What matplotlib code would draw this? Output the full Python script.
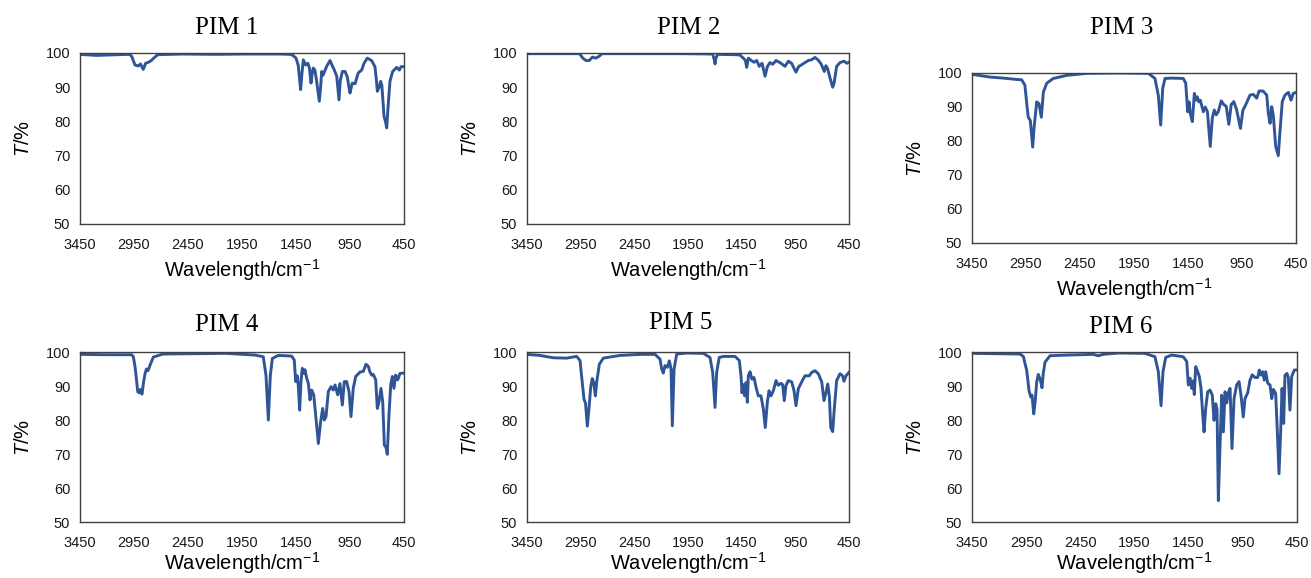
import matplotlib
matplotlib.use("Agg")
import matplotlib.pyplot as plt

plt.rcParams['font.family'] = 'Liberation Sans'
plt.rcParams['mathtext.fontset'] = 'custom'
plt.rcParams['mathtext.rm'] = 'Liberation Sans'
plt.rcParams['mathtext.it'] = 'Liberation Sans:italic'

# DATA (wavenumber in cm-1, transmittance in %)
titles = ['PIM 1', 'PIM 2', 'PIM 3', 'PIM 4', 'PIM 5', 'PIM 6']
x_ticks = [3450, 2950, 2450, 1950, 1450, 950, 450]
y_ticks = [50, 60, 70, 80, 90, 100]

wn1 = [3450, 3300, 3100, 2990, 2971, 2941, 2910, 2890, 2864, 2842, 2815, 2790, 2771, 2730, 2500,
       2200, 1900, 1600, 1500, 1475, 1450, 1430, 1407, 1395, 1382, 1360, 1340, 1325, 1311, 1300,
       1290, 1275, 1260, 1234, 1222, 1212, 1200, 1166, 1135, 1110, 1095, 1073, 1052, 1040, 1020,
       996, 975, 960, 950, 929, 903, 885, 873, 842, 820, 790, 750, 719, 705, 697,
       680, 666, 655, 635, 622, 610, 598, 580, 555, 518, 493, 478, 450]
t1 = [99.6, 99.3, 99.5, 99.6, 99.0, 96.5, 96.2, 96.8, 95.2, 97.0, 97.3, 97.8, 98.4, 99.5, 99.7,
      99.6, 99.7, 99.7, 99.6, 99.2, 98.5, 96.5, 89.3, 94.0, 98.0, 96.5, 97.0, 95.5, 91.2, 94.0,
      95.6, 95.0, 92.0, 85.9, 90.0, 94.6, 93.5, 96.1, 97.8, 96.0, 95.0, 93.2, 86.3, 92.0, 94.6,
      94.6, 93.0, 90.0, 88.3, 91.2, 91.0, 93.0, 94.2, 95.0, 97.0, 98.5, 97.8, 96.0, 92.0, 88.8,
      90.0, 91.7, 90.5, 81.5, 80.0, 78.1, 84.0, 91.7, 94.6, 95.8, 95.0, 96.0, 96.0]

wn2 = [3450, 3000, 2960, 2930, 2900, 2870, 2840, 2810, 2780, 2750, 2400, 2000, 1720, 1705, 1698,
       1690, 1675, 1500, 1466, 1435, 1415, 1403, 1388, 1360, 1335, 1310, 1286, 1260, 1232, 1211,
       1186, 1160, 1130, 1093, 1046, 1015, 985, 944, 920, 870, 829, 800, 767, 736, 710,
       680, 665, 650, 627, 602, 590, 565, 534, 497, 470, 450]
t2 = [99.8, 99.8, 99.8, 98.5, 97.8, 97.8, 98.8, 98.5, 99.0, 99.8, 99.8, 99.8, 99.7, 98.0, 96.8,
      98.5, 99.6, 99.5, 99.4, 98.5, 97.8, 95.8, 98.5, 97.8, 97.3, 97.8, 96.1, 97.0, 93.2, 96.0,
      97.2, 96.7, 97.8, 97.2, 96.1, 97.6, 97.0, 94.4, 96.0, 97.0, 97.8, 98.0, 98.7, 97.9, 96.8,
      94.6, 96.3, 95.5, 92.7, 90.0, 91.0, 96.1, 97.2, 97.6, 97.0, 97.3]

wn3 = [3450, 3283, 3160, 3068, 2990, 2960, 2940, 2929, 2910, 2888, 2875, 2851, 2830, 2808, 2789,
       2758, 2697, 2573, 2388, 2100, 1817, 1756, 1725, 1703, 1684, 1663, 1601, 1494, 1471, 1453,
       1440, 1428, 1410, 1391, 1378, 1364, 1350, 1336, 1308, 1290, 1270, 1244, 1225, 1207, 1188,
       1170, 1142, 1118, 1096, 1072, 1050, 1026, 1000, 964, 942, 915, 876, 845, 814, 792,
       755, 721, 706, 690, 675, 660, 638, 614, 600, 577, 552, 520, 496, 475, 450]
t3 = [99.6, 98.8, 98.5, 98.2, 98.0, 96.4, 90.0, 87.0, 86.0, 78.2, 84.0, 91.5, 91.0, 87.0, 94.4,
      97.0, 98.4, 99.3, 99.9, 100.0, 99.9, 98.4, 93.5, 84.7, 95.5, 98.4, 98.5, 98.4, 97.0, 88.6,
      91.5, 88.0, 85.7, 94.0, 92.0, 93.0, 91.5, 92.0, 88.6, 90.0, 88.6, 78.4, 86.7, 89.1, 87.7,
      88.6, 91.8, 90.7, 90.2, 84.9, 90.7, 91.6, 89.2, 83.7, 89.0, 90.7, 93.5, 93.7, 92.6, 94.7,
      94.7, 93.5, 88.1, 85.2, 90.1, 87.5, 78.4, 75.7, 82.0, 91.6, 93.5, 94.3, 92.0, 94.0, 94.3]

wn4 = [3450, 3200, 2971, 2956, 2940, 2925, 2915, 2900, 2890, 2876, 2862, 2848, 2835, 2820, 2802,
       2771, 2683, 2400, 2100, 1830, 1753, 1728, 1706, 1688, 1669, 1614, 1490, 1466, 1453, 1438,
       1429, 1416, 1404, 1392, 1376, 1367, 1351, 1336, 1320, 1305, 1286, 1268, 1243, 1222, 1203,
       1188, 1172, 1151, 1126, 1105, 1089, 1064, 1043, 1021, 1003, 981, 959, 941, 920, 897,
       857, 827, 802, 781, 765, 749, 734, 712, 697, 682, 663, 647, 632, 617, 605,
       589, 573, 558, 543, 527, 508, 487, 450]
t4 = [99.3, 99.2, 99.2, 98.6, 95.6, 91.2, 88.3, 88.0, 89.0, 87.6, 91.0, 93.6, 95.0, 94.5, 96.1,
      98.5, 99.4, 99.5, 99.6, 99.1, 98.6, 93.2, 80.0, 93.0, 98.1, 99.0, 98.8, 97.6, 91.3, 93.0,
      90.2, 82.9, 91.3, 95.2, 93.7, 94.8, 92.3, 90.8, 85.9, 88.8, 87.4, 81.5, 73.1, 79.5, 83.4,
      80.0, 81.0, 88.3, 89.8, 88.8, 90.3, 87.4, 90.7, 84.4, 91.3, 91.3, 88.3, 81.0, 89.3, 92.8,
      94.1, 94.3, 96.4, 95.8, 94.1, 93.2, 93.4, 91.8, 83.4, 85.3, 89.3, 85.3, 72.6, 72.0, 69.9,
      81.6, 90.3, 92.8, 89.3, 93.2, 91.8, 93.7, 93.8]

wn5 = [3450, 3330, 3205, 3080, 2987, 2956, 2940, 2919, 2905, 2888, 2872, 2857, 2842, 2828, 2813,
       2800, 2776, 2739, 2583, 2396, 2257, 2211, 2195, 2180, 2164, 2143, 2124, 2108, 2096, 2080,
       2055, 1962, 1807, 1745, 1720, 1698, 1683, 1659, 1621, 1512, 1472, 1456, 1447, 1435, 1422,
       1410, 1397, 1388, 1372, 1354, 1335, 1316, 1295, 1270, 1248, 1230, 1211, 1195, 1177, 1155,
       1130, 1109, 1083, 1068, 1053, 1037, 1015, 984, 962, 944, 922, 891, 860, 820, 797,
       767, 736, 704, 683, 664, 648, 633, 620, 602, 587, 565, 534, 509, 497, 478, 450]
t5 = [99.3, 99.0, 98.3, 98.2, 98.7, 97.5, 92.5, 86.1, 85.0, 78.2, 83.5, 89.5, 92.2, 91.0, 87.1,
      91.3, 96.4, 98.2, 99.0, 99.3, 99.3, 97.9, 95.0, 93.8, 96.0, 95.5, 97.4, 95.0, 78.3, 95.0,
      99.4, 99.7, 99.6, 98.4, 94.0, 83.7, 94.0, 98.4, 98.7, 98.7, 97.5, 93.0, 88.0, 90.4, 87.1,
      91.0, 85.2, 93.0, 94.2, 92.0, 92.5, 89.6, 87.1, 87.1, 83.2, 77.8, 85.2, 88.6, 87.1, 88.6,
      91.6, 90.2, 90.8, 90.4, 85.7, 90.2, 91.6, 91.2, 88.6, 84.2, 89.2, 91.2, 93.0, 93.0, 94.0,
      94.5, 93.6, 91.2, 85.7, 88.1, 90.6, 87.0, 77.8, 76.6, 83.3, 91.6, 93.6, 93.0, 91.4, 93.0, 94.0]

wn6 = [3450, 3007, 2976, 2945, 2924, 2908, 2896, 2880, 2866, 2853, 2838, 2820, 2804, 2792, 2776,
       2730, 2573, 2330, 2284, 2240, 2100, 1853, 1761, 1730, 1705, 1687, 1662, 1607, 1500, 1468,
       1453, 1438, 1422, 1407, 1398, 1385, 1367, 1352, 1336, 1320, 1308, 1293, 1274, 1253, 1232,
       1216, 1200, 1188, 1176, 1161, 1145, 1130, 1114, 1099, 1084, 1068, 1050, 1031, 1007, 985,
       967, 946, 930, 905, 884, 863, 838, 813, 798, 782, 767, 752, 739, 720, 699,
       683, 668, 647, 632, 616, 601, 588, 573, 561, 542, 530, 515, 499, 475, 450]
t6 = [99.6, 99.4, 98.7, 94.6, 88.7, 86.8, 87.3, 81.8, 85.7, 91.1, 93.4, 92.0, 89.5, 93.7, 97.0,
      98.9, 99.1, 99.3, 98.9, 99.3, 99.7, 99.6, 98.6, 94.2, 84.2, 94.2, 98.4, 99.1, 98.6, 97.2,
      90.3, 92.3, 89.3, 91.5, 87.5, 95.7, 94.2, 92.8, 89.3, 81.4, 76.5, 83.4, 88.3, 88.8, 87.3,
      79.9, 84.8, 83.0, 56.3, 72.0, 87.3, 76.5, 88.3, 85.0, 88.0, 89.3, 71.6, 86.3, 90.3, 91.3,
      87.3, 80.9, 86.3, 88.0, 91.7, 93.3, 92.5, 92.5, 94.7, 93.2, 94.2, 91.7, 94.2, 90.8, 90.3,
      86.3, 89.0, 87.8, 77.0, 64.2, 76.5, 89.3, 79.0, 93.2, 93.7, 92.5, 82.9, 92.8, 94.7, 94.7]

spectra = [(wn1, t1), (wn2, t2), (wn3, t3), (wn4, t4), (wn5, t5), (wn6, t6)]

# layout in pixels: left, top, right, bottom of each plot box
W, H = 1311, 578
boxes = [(80, 53, 404, 224), (527, 53, 849, 224), (972, 73, 1296, 243),
         (80, 352, 404, 522), (527, 352, 849, 522), (972, 352, 1297, 522)]
title_xy = [(227, 34), (689, 34), (1122, 34), (227, 331), (681, 329), (1121, 333)]

fig = plt.figure(figsize=(W / 100, H / 100), dpi=100)

for i in range(6):
    l, t, r, b = boxes[i]
    ax = fig.add_axes([l / W, 1 - b / H, (r - l) / W, (b - t) / H])
    wn, tr = spectra[i]
    ax.plot(wn, tr, color='#2f5597', lw=2.1, solid_joinstyle='round')
    ax.set_xlim(3450, 450)
    ax.set_ylim(50, 100)
    ax.set_xticks(x_ticks)
    ax.set_yticks(y_ticks)
    ax.tick_params(length=0, labelsize=10.5, colors='#1a1a1a')
    ax.tick_params(axis='x', pad=10)
    ax.tick_params(axis='y', pad=7)
    for s in ax.spines.values():
        s.set_color('#404040')
        s.set_linewidth(1.0)
    # bottom row label sits right at the figure edge, keep it inside
    ax.set_xlabel('Wavelength/cm$^{-1}$', fontsize=14.5, labelpad=4 if i < 3 else 0.5)
    ax.set_ylabel('$\\mathit{T}$/%', fontsize=14.5, labelpad=9)
    tx, ty = title_xy[i]
    fig.text(tx / W, 1 - ty / H, titles[i], ha='center', va='baseline',
             family='Liberation Serif', fontsize=18)

fig.savefig('out.png', dpi=100)
